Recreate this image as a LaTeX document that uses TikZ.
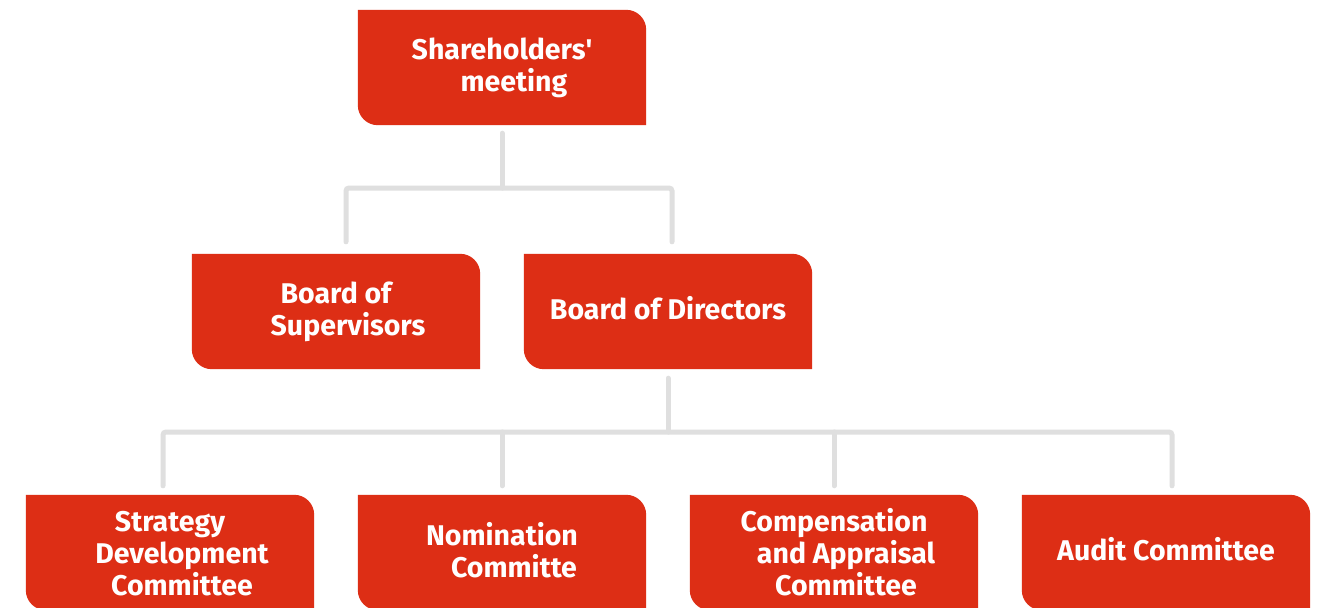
\documentclass[tikz,border=0pt]{standalone}
\usepackage{fontspec}
\setmainfont{Fira Sans}
\usetikzlibrary{calc,backgrounds}
\definecolor{boxred}{HTML}{DD2E15}
\definecolor{linegray}{HTML}{DFDFDF}
\newcommand\ind{\hspace*{24pt}}
\tikzset{
  orgbox/.style={minimum width=288pt, minimum height=115pt, inner sep=0pt},
  boxtext/.style={inner sep=0pt, text=white, font=\fontsize{28.5}{32}\selectfont\bfseries, align=center},
  conn/.style={draw=linegray, line width=5pt, line cap=round, rounded corners=3pt}
}
\newcommand\redshape[1]{%
  \fill[boxred] (#1.north west) -- ([xshift=-20pt]#1.north east)
    arc[start angle=90,end angle=0,radius=20pt] -- (#1.south east)
    -- ([xshift=20pt]#1.south west)
    arc[start angle=270,end angle=180,radius=20pt] -- cycle;}
\begin{document}
\begin{tikzpicture}[x=1pt,y=1pt]
\useasboundingbox (0,0) rectangle (1326,-608);
\clip (0,0) rectangle (1326,-608);
\node[orgbox,label={[boxtext,yshift=-0.5pt]center:Shareholders\textquotesingle\\\ind meeting}] (top) at (502,-67.5) {};
\node[orgbox,label={[boxtext,yshift=-0.5pt]center:Board of\\\ind Supervisors}] (sup) at (336,-311.5) {};
\node[orgbox,label={[boxtext,yshift=3.5pt]center:Board of Directors}] (dir) at (668,-311.5) {};
\node[orgbox,label={[boxtext,yshift=-1pt]center:Strategy\\\ind Development\\\ind Committee}] (s1) at (170,-552.5) {};
\node[orgbox,label={[boxtext,yshift=2pt]center:Nomination\\\ind Committe}] (s2) at (502,-552.5) {};
\node[orgbox,label={[boxtext,yshift=0pt]center:Compensation\\\ind and Appraisal\\\ind Committee}] (s3) at (834,-552.5) {};
\node[orgbox,label={[boxtext,yshift=3.5pt]center:Audit Committee}] (s4) at (1166,-552.5) {};
\begin{scope}[on background layer]
\fill[white] (0,0) rectangle (1326,-608);
\foreach \n in {top,sup,dir,s1,s2,s3,s4}{\redshape{\n}}
\end{scope}
\coordinate (bus1) at (502,-188);
\coordinate (bus2) at (668,-432);
\draw[conn] ([yshift=-8pt]top.south) -- (bus1);
\draw[conn] ([xshift=10pt,yshift=12pt]sup.north) |- (bus1) -| ([xshift=4pt,yshift=12pt]dir.north);
\draw[conn] ([yshift=-9pt]dir.south) -- (bus2);
\draw[conn] ([xshift=-7pt,yshift=9pt]s1.north) |- (bus2) -| ([xshift=6pt,yshift=9pt]s4.north);
\draw[conn] ([yshift=9pt]s2.north) -- (s2.north |- bus2);
\draw[conn] ([yshift=9pt]s3.north) -- (s3.north |- bus2);
\end{tikzpicture}
\end{document}
